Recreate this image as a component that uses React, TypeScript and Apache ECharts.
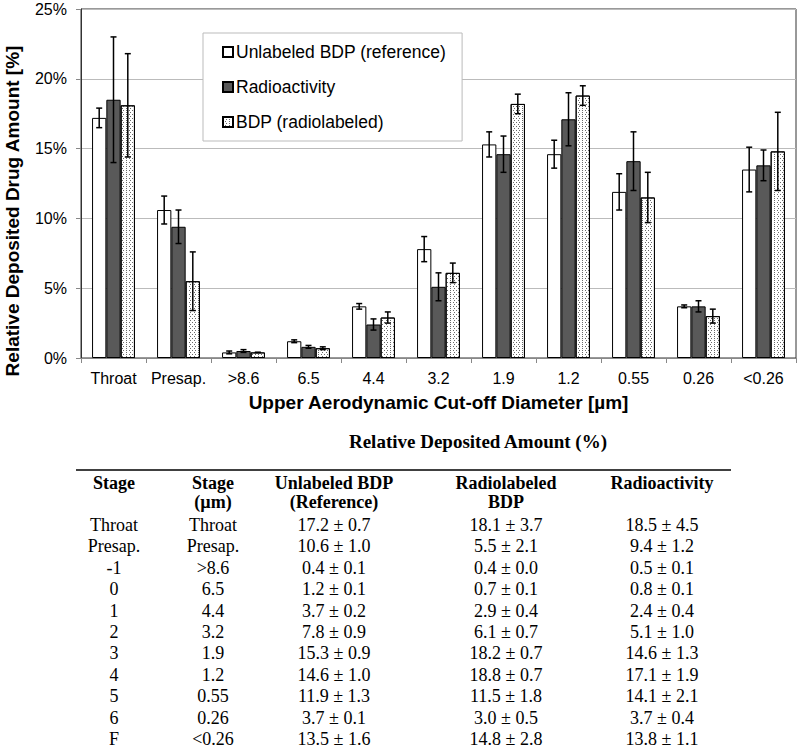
import React, { useEffect, useRef } from 'react';
import * as echarts from 'echarts';

const categories = ['Throat', 'Presap.', '>8.6', '6.5', '4.4', '3.2', '1.9', '1.2', '0.55', '0.26', '<0.26'];
const stageLabels = ['Throat', 'Presap.', '-1', '0', '1', '2', '3', '4', '5', '6', 'F'];
const seriesNames = ['Unlabeled BDP (reference)', 'Radioactivity', 'BDP (radiolabeled)'];

const unlabeled = [17.2, 10.6, 0.4, 1.2, 3.7, 7.8, 15.3, 14.6, 11.9, 3.7, 13.5];
const unlabeledErr = [0.7, 1.0, 0.1, 0.1, 0.2, 0.9, 0.9, 1.0, 1.3, 0.1, 1.6];
const radioactivity = [18.5, 9.4, 0.5, 0.8, 2.4, 5.1, 14.6, 17.1, 14.1, 3.7, 13.8];
const radioactivityErr = [4.5, 1.2, 0.1, 0.1, 0.4, 1.0, 1.3, 1.9, 2.1, 0.4, 1.1];
const radiolabeled = [18.1, 5.5, 0.4, 0.7, 2.9, 6.1, 18.2, 18.8, 11.5, 3.0, 14.8];
const radiolabeledErr = [3.7, 2.1, 0.0, 0.1, 0.4, 0.7, 0.7, 0.7, 1.8, 0.5, 2.8];

const yMin = 0;
const yMax = 25;
const yStep = 5;

const tableTitle = 'Relative Deposited Amount (%)';
const tableHeaders = [
  ['Stage'],
  ['Stage', '(\u00b5m)'],
  ['Unlabeled BDP', '(Reference)'],
  ['Radiolabeled', 'BDP'],
  ['Radioactivity'],
];

const SANS = '"Liberation Sans", Arial, sans-serif';
const SERIF = '"Liberation Serif", "Times New Roman", serif';
const CAT_GAP = 0.34;

function fmt(v: number, e: number) {
  return `${v.toFixed(1)} \u00b1 ${e.toFixed(1)}`;
}

export default function App() {
  const ref = useRef<HTMLDivElement>(null);

  useEffect(() => {
    if (!ref.current) return;
    const chart = echarts.init(ref.current, null, { renderer: 'svg' });

    const values = [unlabeled, radioactivity, radiolabeled];
    const errors = [unlabeledErr, radioactivityErr, radiolabeledErr];
    const fills = ['#ffffff', '#595959', '#ffffff'];

    const barSeries = values.map((vals, k) => ({
      name: seriesNames[k],
      type: 'bar',
      data: vals,
      barGap: '0%',
      barCategoryGap: `${CAT_GAP * 100}%`,
      itemStyle: {
        color: fills[k],
        borderColor: '#000',
        borderWidth: 1,
        decal:
          k === 2
            ? {
                symbol: 'rect',
                symbolSize: 1,
                color: '#6a6a6a',
                dashArrayX: [[1, 2], [0, 1.5, 1, 0.5]],
                dashArrayY: [1, 1],
                rotation: 0,
              }
            : 'none',
      },
      emphasis: { disabled: true },
    }));

    const errSeries = values.map((vals, k) => ({
      name: `err-${k}`,
      type: 'custom',
      z: 10,
      silent: true,
      encode: { x: 0, y: 1 },
      data: vals.map((v, i) => [i, v, errors[k][i]]),
      renderItem: (params: any, api: any) => {
        const idx = api.value(0);
        const v = api.value(1);
        const e = api.value(2);
        const band = api.size([1, 0])[0];
        const bw = (band * (1 - CAT_GAP)) / 3;
        const p = api.coord([idx, v]);
        const cx = p[0] + (k - 1) * bw;
        const top = api.coord([idx, v + e])[1];
        const bot = api.coord([idx, v - e])[1];
        const cap = 3;
        const st = { stroke: '#000', lineWidth: 1.5 };
        return {
          type: 'group',
          children: [
            { type: 'line', shape: { x1: cx, y1: top, x2: cx, y2: bot }, style: st },
            { type: 'line', shape: { x1: cx - cap, y1: top, x2: cx + cap, y2: top }, style: st },
            { type: 'line', shape: { x1: cx - cap, y1: bot, x2: cx + cap, y2: bot }, style: st },
          ],
        };
      },
    }));

    const colX = [114, 213, 334, 506, 662];
    const headY = [483, 502];
    const rowY0 = 525;
    const rowStep = 21.4;
    const tableEls: any[] = [];
    const txt = (x: number, y: number, text: string, bold: boolean, size = 18) => ({
      type: 'text',
      x,
      y,
      style: {
        text,
        fontFamily: SERIF,
        fontSize: size,
        fontWeight: bold ? 'bold' : 'normal',
        fill: '#000',
        align: 'center',
        verticalAlign: 'middle',
      },
    });
    tableEls.push(txt(478, 441, tableTitle, true, 19));
    tableEls.push({
      type: 'line',
      shape: { x1: 76, y1: 470, x2: 731, y2: 470 },
      style: { stroke: '#000', lineWidth: 1.5 },
    });
    tableHeaders.forEach((lines, c) => {
      lines.forEach((t, j) => tableEls.push(txt(colX[c], headY[j], t, true)));
    });
    stageLabels.forEach((s, i) => {
      const y = rowY0 + i * rowStep;
      tableEls.push(txt(colX[0], y, s, false));
      tableEls.push(txt(colX[1], y, categories[i], false));
      tableEls.push(txt(colX[2], y, fmt(unlabeled[i], unlabeledErr[i]), false));
      tableEls.push(txt(colX[3], y, fmt(radiolabeled[i], radiolabeledErr[i]), false));
      tableEls.push(txt(colX[4], y, fmt(radioactivity[i], radioactivityErr[i]), false));
    });

    const option: any = {
      animation: false,
      backgroundColor: '#ffffff',
      grid: {
        left: 81,
        top: 9,
        right: 4,
        bottom: 753 - 358,
        show: true,
        borderColor: '#333',
        borderWidth: 1,
        containLabel: false,
      },
      legend: {
        data: seriesNames,
        orient: 'vertical',
        left: 203,
        top: 33,
        itemWidth: 10,
        itemHeight: 10,
        itemGap: 17,
        padding: [10, 16, 10, 19],
        backgroundColor: '#fff',
        borderColor: '#bbb',
        borderWidth: 1,
        borderRadius: 0,
        icon: 'rect',
        selectedMode: false,
        textStyle: { fontFamily: SANS, fontSize: 17.5, color: '#000', padding: [0, 0, 0, -2] },
      },
      xAxis: {
        type: 'category',
        data: categories,
        axisLine: { lineStyle: { color: '#888', width: 1 } },
        axisTick: { show: true, length: 5, lineStyle: { color: '#888' } },
        axisLabel: { fontFamily: SANS, fontSize: 16, color: '#000', margin: 12, interval: 0 },
        name: 'Upper Aerodynamic Cut-off Diameter [\u00b5m]',
        nameLocation: 'middle',
        nameGap: 35,
        nameTextStyle: { fontFamily: SANS, fontSize: 19, fontWeight: 'bold', color: '#000' },
        splitLine: { show: false },
      },
      yAxis: {
        type: 'value',
        min: yMin,
        max: yMax,
        interval: yStep,
        axisLine: { show: true, lineStyle: { color: '#333', width: 1 } },
        axisTick: { show: true, length: 5, lineStyle: { color: '#888' } },
        axisLabel: { fontFamily: SANS, fontSize: 16, color: '#000', margin: 14, formatter: '{value}%' },
        splitLine: { show: true, lineStyle: { color: '#bbb', width: 1 } },
      },
      graphic: [
        {
          type: 'text',
          x: 12,
          y: 211,
          rotation: Math.PI / 2,
          style: {
            text: 'Relative Deposited Drug Amount [%]',
            fontFamily: SANS,
            fontSize: 19,
            fontWeight: 'bold',
            fill: '#000',
            align: 'center',
            verticalAlign: 'middle',
          },
        },
        ...tableEls,
      ],
      series: [...barSeries, ...errSeries],
    };

    chart.setOption(option);
    return () => chart.dispose();
  }, []);

  return (
    <div
      ref={ref}
      style={{ position: 'absolute', left: 0, top: 0, width: 800, height: 753 }}
    />
  );
}
